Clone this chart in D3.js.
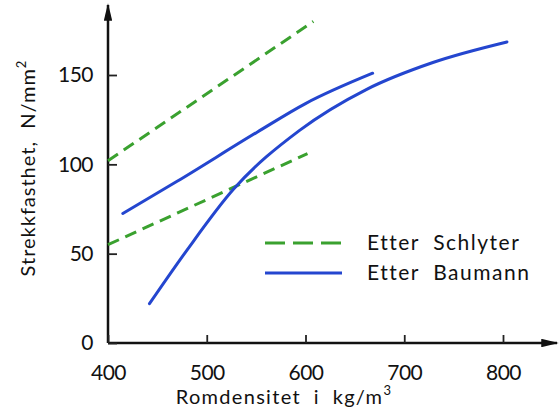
<!DOCTYPE html>
<html>
<head>
<meta charset="utf-8">
<script src="https://cdn.jsdelivr.net/npm/d3@7"></script>
<style>
  body { margin: 0; background: #fff; }
  svg text { font-family: Lato, "Noto Sans", sans-serif; fill: #111; }
</style>
</head>
<body>
<div id="chart"></div>
<script>
// values
var xTicks = [400, 500, 600, 700, 800];
var yTicks = [0, 50, 100, 150];

// Schlyter, two straight dashed lines
var schlyterHighDens = [400, 608];
var schlyterHighStr  = [102, 180];
var schlyterLowDens  = [400, 602];
var schlyterLowStr   = [55, 106];

// Baumann, two curves
var baumannADens = [415, 470, 551, 600, 668];
var baumannAStr  = [72.5, 90.5, 118, 134, 151];
var baumannBDens = [442, 480, 527, 594, 662, 729, 804];
var baumannBStr  = [22, 52, 86, 119, 142, 157, 168.5];

var legendNames = ["Etter  Schlyter", "Etter  Baumann"];

var width = 560, height = 412;
var green = "#3aa12f", blue = "#2446cf";

var svg = d3.select("#chart").append("svg")
  .attr("width", width).attr("height", height);

var x = d3.scaleLinear().domain([400, 800]).range([108, 503]);
var y = d3.scaleLinear().domain([0, 150]).range([343, 75]);

// arrow heads
var defs = svg.append("defs");
defs.append("marker").attr("id", "arrow")
  .attr("viewBox", "0 0 10 10").attr("refX", 9).attr("refY", 5)
  .attr("markerWidth", 7).attr("markerHeight", 3.4)
  .attr("preserveAspectRatio", "none")
  .attr("markerUnits", "strokeWidth")
  .attr("orient", "auto")
  .append("path").attr("d", "M0,0 L10,5 L0,10 Z").attr("fill", "#111");

// axes lines with arrows
svg.append("line")
  .attr("x1", x(400)).attr("y1", y(0)).attr("x2", 557).attr("y2", y(0))
  .attr("stroke", "#111").attr("stroke-width", 2.5).attr("marker-end", "url(#arrow)");
svg.append("line")
  .attr("x1", x(400)).attr("y1", y(0)).attr("x2", x(400)).attr("y2", 5)
  .attr("stroke", "#111").attr("stroke-width", 2.5).attr("marker-end", "url(#arrow)");

// ticks
var gx = svg.append("g").attr("transform", "translate(0," + y(0) + ")")
  .call(d3.axisBottom(x).tickValues(xTicks).tickSizeInner(-8).tickSizeOuter(0).tickPadding(19));
var gy = svg.append("g").attr("transform", "translate(" + x(400) + ",0)")
  .call(d3.axisLeft(y).tickValues(yTicks).tickSizeInner(-9).tickSizeOuter(0).tickPadding(15));
[gx, gy].forEach(function(g) {
  g.select(".domain").remove();
  g.selectAll(".tick line").attr("stroke", "#222").attr("stroke-width", 1.8);
  g.selectAll(".tick text").style("font-size", "21px").style("letter-spacing", "-0.5px")
    .attr("fill", "#111");
});
gx.selectAll(".tick text").attr("dy", "0.85em");

// series
var line = d3.line().x(function(d) { return x(d[0]); }).y(function(d) { return y(d[1]); });
var curve = d3.line().curve(d3.curveMonotoneX)
  .x(function(d) { return x(d[0]); }).y(function(d) { return y(d[1]); });

function pairs(a, b) { return a.map(function(v, i) { return [v, b[i]]; }); }

[pairs(schlyterHighDens, schlyterHighStr), pairs(schlyterLowDens, schlyterLowStr)].forEach(function(p) {
  svg.append("path").datum(p).attr("d", line)
    .attr("fill", "none").attr("stroke", green).attr("stroke-width", 3)
    .attr("stroke-dasharray", "12,7");
});
[pairs(baumannADens, baumannAStr), pairs(baumannBDens, baumannBStr)].forEach(function(p) {
  svg.append("path").datum(p).attr("d", curve)
    .attr("fill", "none").attr("stroke", blue).attr("stroke-width", 3)
    .attr("stroke-linecap", "round");
});

// legend
var leg = svg.append("g");
leg.append("line").attr("x1", 265).attr("x2", 342).attr("y1", 243).attr("y2", 243)
  .attr("stroke", green).attr("stroke-width", 3).attr("stroke-dasharray", "20,8");
leg.append("line").attr("x1", 265).attr("x2", 342).attr("y1", 273).attr("y2", 273)
  .attr("stroke", blue).attr("stroke-width", 3);
leg.selectAll("text").data(legendNames).enter().append("text")
  .attr("x", 367).attr("y", function(d, i) { return 250 + i * 30; })
  .style("font-size", "21px").style("letter-spacing", "1.5px").style("white-space", "pre")
  .text(function(d) { return d; });

// axis titles
var xt = svg.append("text").attr("x", 284).attr("y", 404).attr("text-anchor", "middle")
  .style("font-size", "20px").style("letter-spacing", "1.3px").style("white-space", "pre");
xt.append("tspan").text("Romdensitet  i  kg/m");
xt.append("tspan").attr("dy", -9).style("font-size", "13px").text("3");

var yt = svg.append("text").attr("transform", "translate(35,168) rotate(-90)")
  .attr("text-anchor", "middle").style("font-size", "20px").style("letter-spacing", "1px")
  .style("white-space", "pre");
yt.append("tspan").text("Strekkfasthet,  N/mm");
yt.append("tspan").attr("dy", -9).style("font-size", "13px").text("2");
</script>
</body>
</html>
